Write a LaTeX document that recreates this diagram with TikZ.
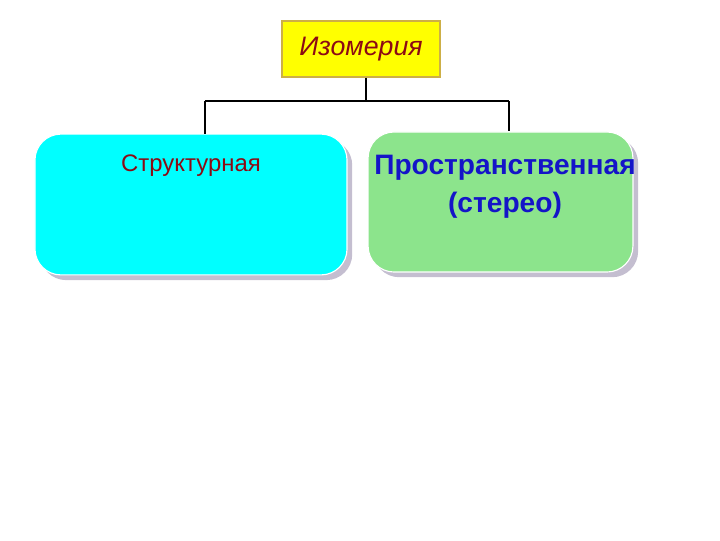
\documentclass[tikz,border=0pt]{standalone}
\usepackage{fontspec}
\setmainfont{Liberation Sans}
\usetikzlibrary{shadows}
\definecolor{topfill}{RGB}{255,255,0}
\definecolor{topline}{RGB}{205,175,70}
\definecolor{darkred}{RGB}{140,10,20}
\definecolor{cyanfill}{RGB}{0,255,255}
\definecolor{greenfill}{RGB}{140,228,140}
\definecolor{shadowgrey}{RGB}{196,190,208}
\definecolor{textblue}{RGB}{20,20,200}
\begin{document}
\begin{tikzpicture}
            [x=0.025cm, y=-0.025cm,
            top/.style={draw=topline, fill=topfill, line width=1pt, minimum width=3.95cm, minimum height=1.4cm},
            kind/.style={rounded corners=0.65cm, draw=white, line width=0.8pt,
                drop shadow={shadow xshift=0.13cm, shadow yshift=-0.13cm, fill=shadowgrey, opacity=1}},
            edge/.style={line width=1.3pt, black}]

            \useasboundingbox (0,0) rectangle (720,540);

            \node[top] (iso) at (361,49) {\fontsize{19}{22}\selectfont\itshape\color{darkred}Изомерия};
            \node[kind, fill=cyanfill, minimum width=7.8cm, minimum height=3.52cm] (struct) at (191,204.5) {};
            \node[kind, fill=greenfill, minimum width=6.62cm, minimum height=3.5cm] (space) at (500.5,202) {};

            % Labels inside the boxes
            \node[anchor=north, text=darkred, font=\fontsize{17}{20}\selectfont] (structlbl) at (191,150) {Структурная};
            \node[anchor=north, align=center, text=textblue, font=\fontsize{20}{27}\selectfont\bfseries] (spacelbl) at (505,150) {Пространственная\\(стерео)};

            % Tree connectors
            \coordinate (fork) at (366,101);
            \coordinate (forkl) at (205,101);
            \coordinate (forkr) at (509,101);
            \draw[edge] (iso.south -| fork) -- (fork);
            \draw[edge] (forkl) -- (forkr);
            \draw[edge] (forkl) -- (forkl |- struct.north);
            \draw[edge] (forkr) -- (forkr |- space.north);

        \end{tikzpicture}
\end{document}
